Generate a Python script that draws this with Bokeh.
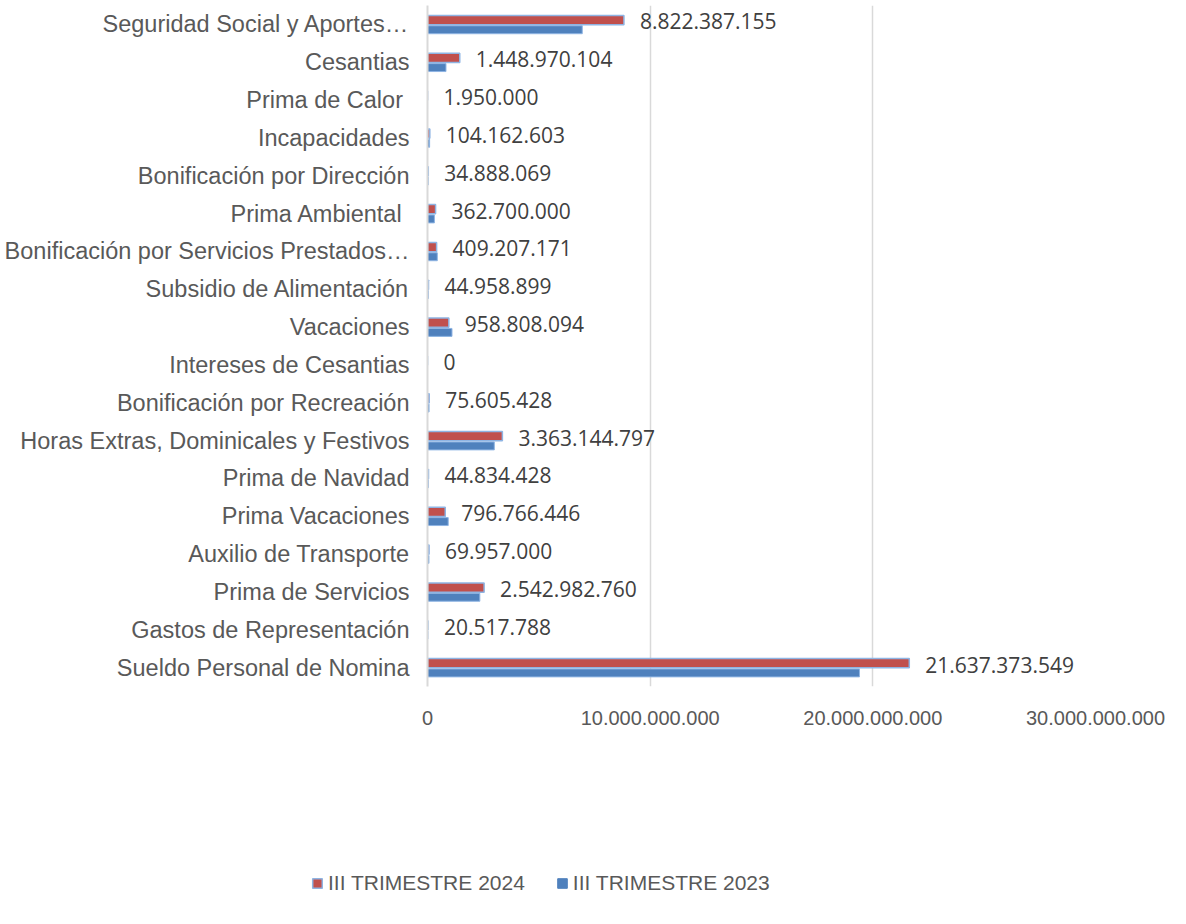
from bokeh.plotting import figure
from bokeh.layouts import column
from bokeh.models import FactorRange, Range1d, FixedTicker, Legend, LegendItem, ColumnDataSource
from bokeh.transform import dodge
from bokeh.core.properties import value
from bokeh.embed import file_html
from bokeh.resources import INLINE

categories = [
    "Seguridad Social y Aportes\u2026",
    "Cesantias",
    "Prima de Calor\u00a0",
    "Incapacidades",
    "Bonificación por Dirección",
    "Prima Ambiental\u00a0",
    "Bonificación por Servicios Prestados\u2026",
    "Subsidio de Alimentación",
    "Vacaciones",
    "Intereses de Cesantias",
    "Bonificación por Recreación",
    "Horas Extras, Dominicales y Festivos",
    "Prima de Navidad",
    "Prima Vacaciones",
    "Auxilio de Transporte",
    "Prima de Servicios",
    "Gastos de Representación",
    "Sueldo Personal de Nomina",
]

trimestre_2024 = [8822387155, 1448970104, 1950000, 104162603, 34888069, 362700000,
                  409207171, 44958899, 958808094, 0, 75605428, 3363144797,
                  44834428, 796766446, 69957000, 2542982760, 20517788, 21637373549]

trimestre_2023 = [6950000000, 830000000, 1800000, 95000000, 32000000, 310000000,
                  440000000, 42000000, 1100000000, 0, 70000000, 3000000000,
                  42000000, 930000000, 65000000, 2350000000, 19000000, 19400000000]

x_ticks = [0, 10000000000, 20000000000, 30000000000]
x_tick_labels = ["0", "10.000.000.000", "20.000.000.000", "30.000.000.000"]

series_names = ["III TRIMESTRE 2024", "III TRIMESTRE 2023"]

RED = "#C0504D"
BLUE = "#4F81BD"
EDGE = "#8EB4E3"
TXT = "#595959"


def fmt(v):
    return f"{v:,}".replace(",", ".")


src = ColumnDataSource(dict(
    cat=categories,
    v24=trimestre_2024,
    v23=trimestre_2023,
    lbl=[fmt(v) for v in trimestre_2024],
))

p = figure(width=1178, height=735,
           y_range=FactorRange(*categories[::-1], range_padding=0),
           x_range=Range1d(0, 30000000000),
           output_backend="svg", toolbar_location=None,
           min_border_left=427, min_border_right=83,
           min_border_top=5, min_border_bottom=49)
p.frame_align = False

p.outline_line_color = None
p.ygrid.grid_line_color = None
p.xgrid.grid_line_color = "#D9D9D9"
p.xgrid.grid_line_width = 1.5

p.xaxis.ticker = FixedTicker(ticks=x_ticks)
p.xaxis.major_label_overrides = {t: l for t, l in zip(x_ticks, x_tick_labels)}
p.xaxis.axis_line_color = None
p.xaxis.major_tick_line_color = None
p.xaxis.minor_tick_line_color = None
p.xaxis.major_tick_out = 0
p.xaxis.major_label_standoff = 24
p.xaxis.major_label_text_font = "Liberation Sans"
p.xaxis.major_label_text_font_size = "20px"
p.xaxis.major_label_text_color = TXT

p.yaxis.axis_line_color = "#D9D9D9"
p.yaxis.axis_line_width = 2
p.yaxis.major_tick_line_color = None
p.yaxis.minor_tick_line_color = None
p.yaxis.major_tick_out = 0
p.yaxis.major_label_standoff = 18
p.yaxis.major_label_text_font = "Liberation Sans"
p.yaxis.major_label_text_font_size = "23.5px"
p.yaxis.major_label_text_color = TXT

r24 = p.hbar(y=dodge("cat", 0.115, range=p.y_range), left=0, right="v24", height=0.245,
             source=src, fill_color=RED, line_color=EDGE, line_width=1.5)
r23 = p.hbar(y=dodge("cat", -0.141, range=p.y_range), left=0, right="v23", height=0.21,
             source=src, fill_color=BLUE, line_color=EDGE, line_width=1)

p.text(x="v24", y=dodge("cat", 0.08, range=p.y_range), text="lbl", source=src,
       x_offset=16, text_baseline="middle", text_align="left",
       text_font=value("Open Sans"), text_font_size="21px", text_color="#404040")

# legend strip below the chart: its rects lie far outside its own view; only the legend shows
pl = figure(width=1178, height=180,
            x_range=Range1d(-60000000000, -30000000000), y_range=FactorRange(*categories[::-1]),
            output_backend="svg", toolbar_location=None,
            min_border_left=0, min_border_right=0, min_border_top=0, min_border_bottom=0)
pl.frame_align = False
pl.axis.visible = False
pl.grid.visible = False
pl.outline_line_color = None
l24 = pl.rect(x="v24", y="cat", width=1000000, height=0.2, source=src,
              fill_color=RED, line_color=EDGE, line_width=1.5)
l23 = pl.rect(x="v23", y="cat", width=1000000, height=0.2, source=src,
              fill_color=BLUE, line_color=BLUE, line_width=1)

legend = Legend(items=[LegendItem(label=series_names[0], renderers=[l24]),
                       LegendItem(label=series_names[1], renderers=[l23])],
                location=(311, 20), orientation="horizontal",
                glyph_width=12, glyph_height=12, label_standoff=5, spacing=31,
                padding=0, margin=0, border_line_color=None, background_fill_alpha=0,
                label_text_font="Liberation Sans", label_text_font_size="21px",
                label_text_color=TXT)
pl.add_layout(legend)

layout = column(p, pl, spacing=0)
open("out.html", "w").write(file_html(layout, INLINE))
